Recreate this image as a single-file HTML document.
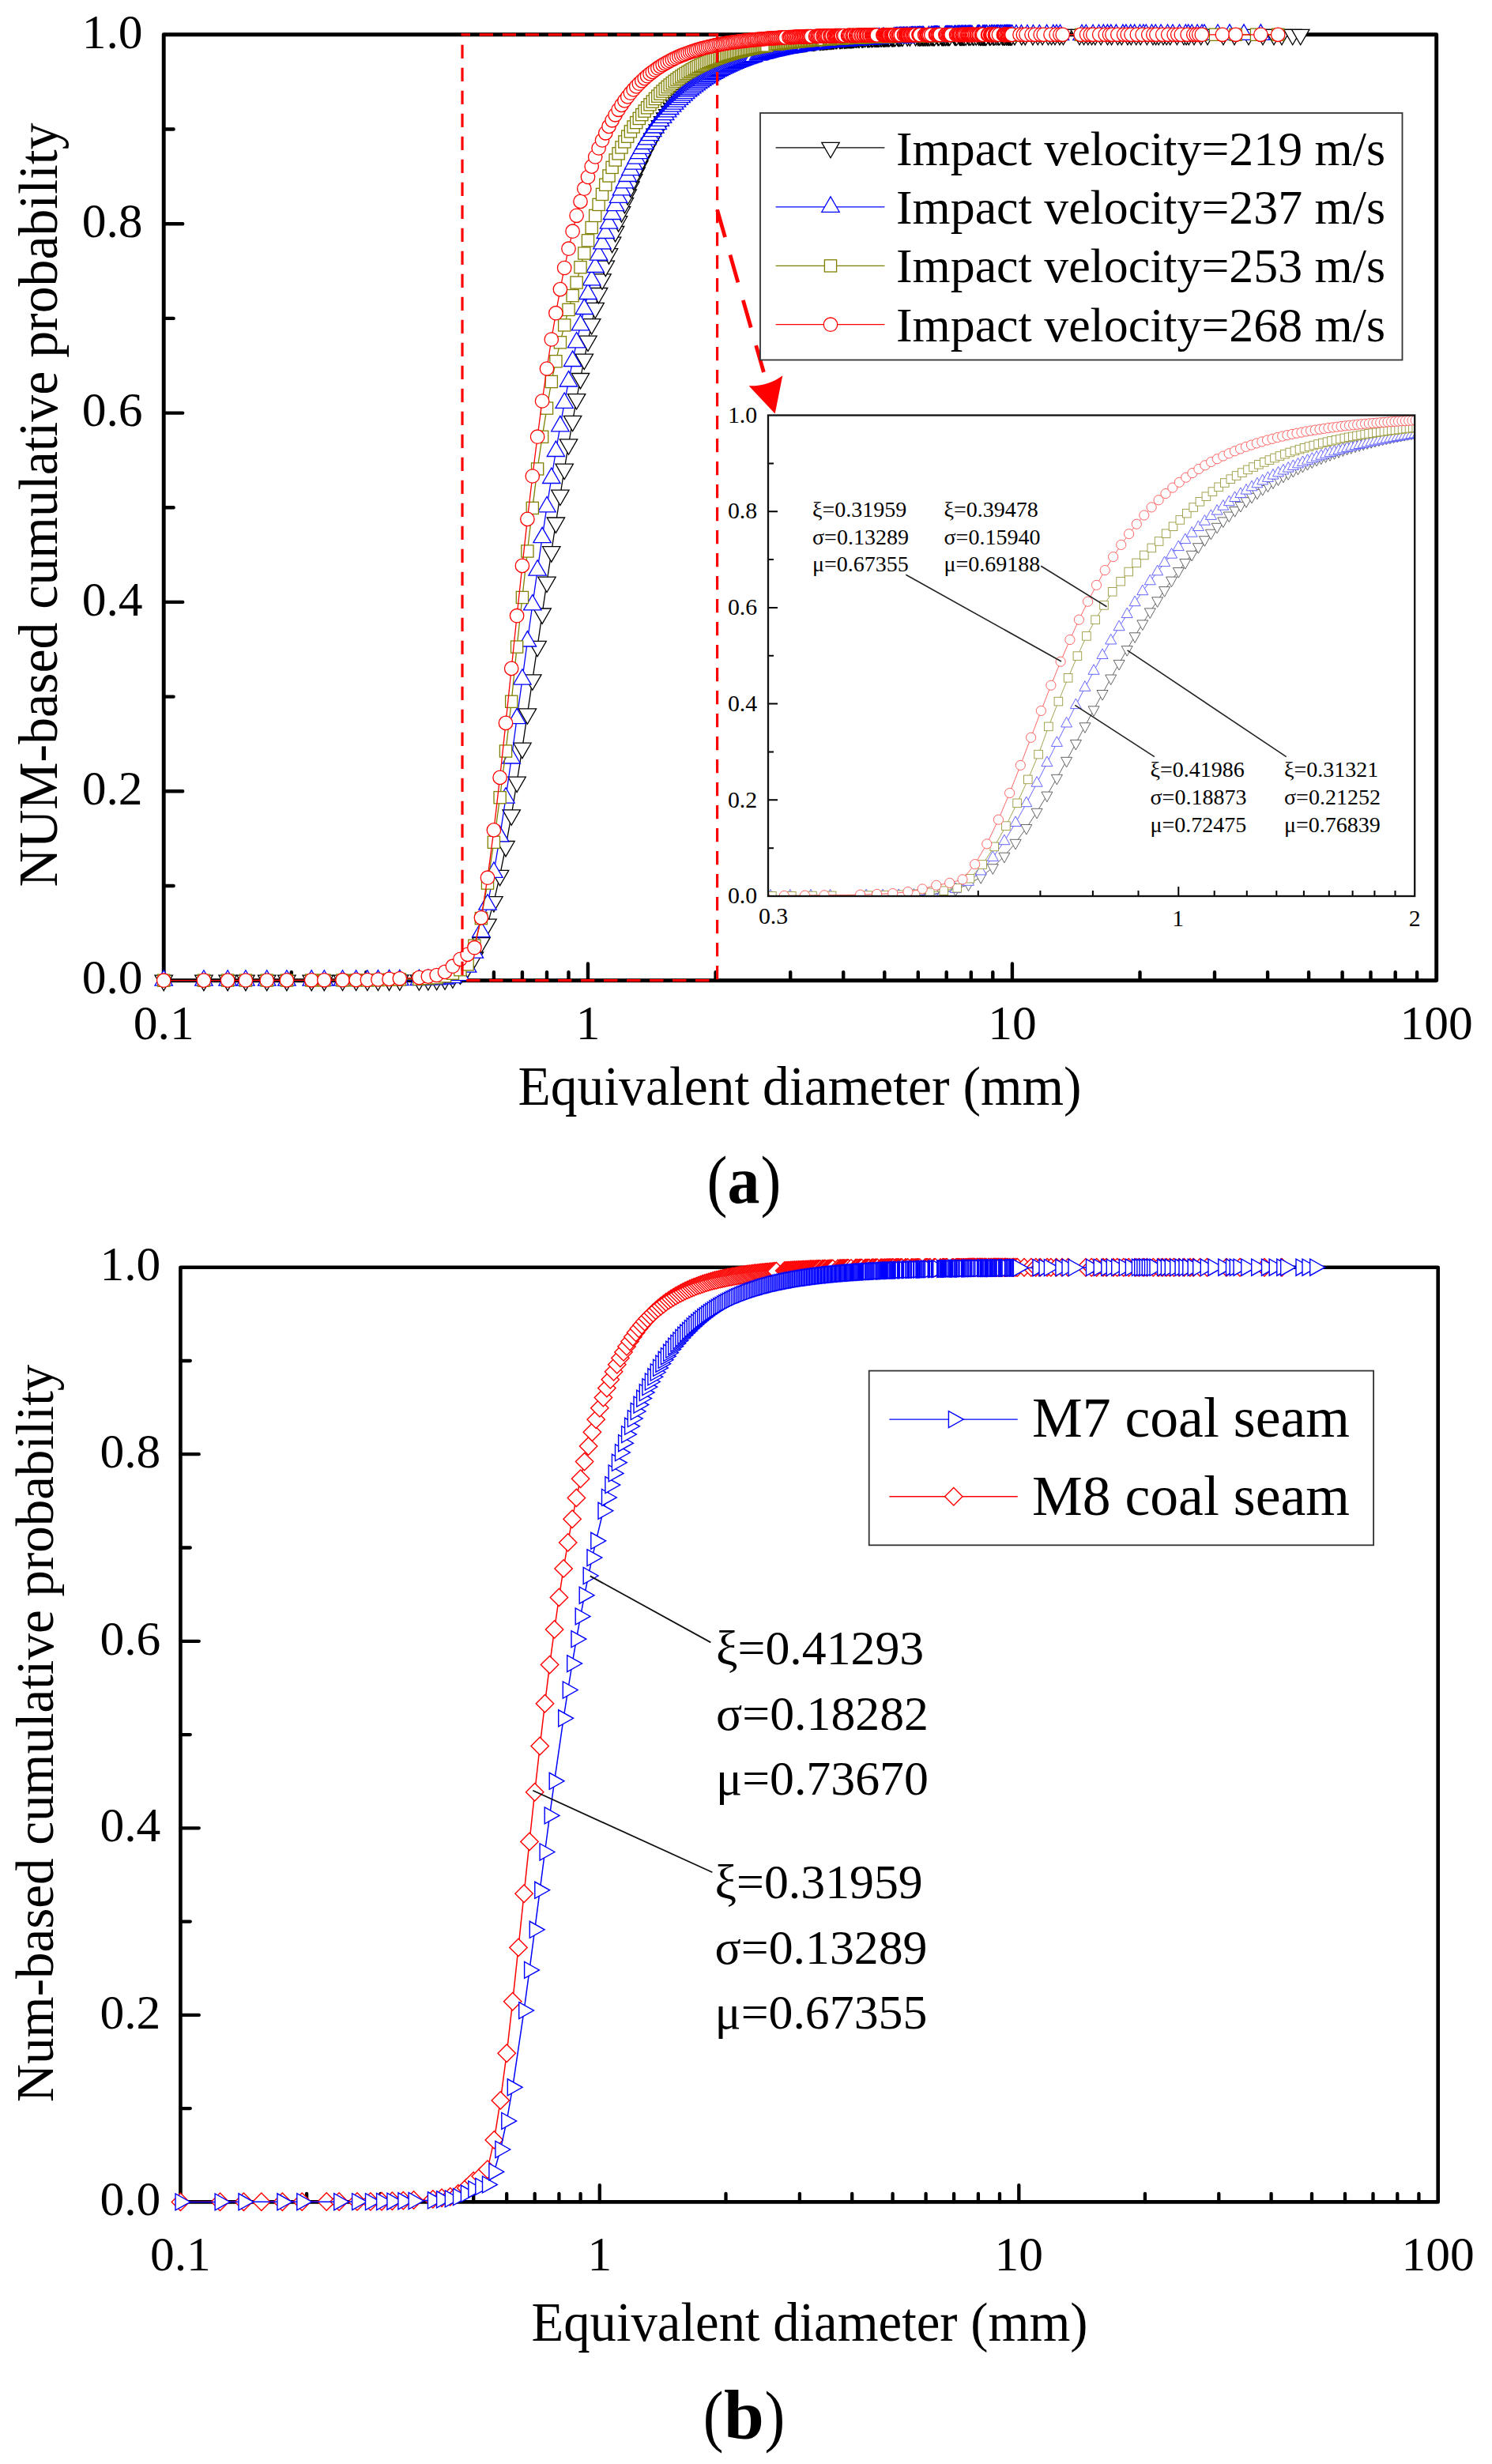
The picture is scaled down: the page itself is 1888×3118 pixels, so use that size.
<!DOCTYPE html>
<html lang="en"><head><meta charset="utf-8"><title>Figure</title>
<style>html,body{margin:0;padding:0;background:#fff}svg{display:block}text{font-family:"Liberation Serif","DejaVu Serif",serif;fill:#000}</style></head><body>
<svg width="1888" height="3118" viewBox="0 0 1888 3118">
<rect width="1888" height="3118" fill="#fff"/>
<defs><marker id="aD" markerUnits="userSpaceOnUse" markerWidth="40" markerHeight="40" refX="20" refY="20" viewBox="0 0 40 40" orient="0" overflow="visible"><g transform="translate(20 20)" fill="#fff" stroke="#000" stroke-width="1.3"><path d="M-11.2 -6.5H11.2L0 12.9Z"/></g></marker><marker id="aU" markerUnits="userSpaceOnUse" markerWidth="40" markerHeight="40" refX="20" refY="20" viewBox="0 0 40 40" orient="0" overflow="visible"><g transform="translate(20 20)" fill="#fff" stroke="#00f" stroke-width="1.3"><path d="M-11.2 6.5H11.2L0 -12.9Z"/></g></marker><marker id="aS" markerUnits="userSpaceOnUse" markerWidth="40" markerHeight="40" refX="20" refY="20" viewBox="0 0 40 40" orient="0" overflow="visible"><g transform="translate(20 20)" fill="#fff" stroke="#808000" stroke-width="1.3"><rect x="-7.6" y="-7.6" width="15.2" height="15.2"/></g></marker><marker id="aC" markerUnits="userSpaceOnUse" markerWidth="40" markerHeight="40" refX="20" refY="20" viewBox="0 0 40 40" orient="0" overflow="visible"><g transform="translate(20 20)" fill="#fff" stroke="#f00" stroke-width="1.3"><circle r="8.7"/></g></marker><marker id="iD" markerUnits="userSpaceOnUse" markerWidth="40" markerHeight="40" refX="20" refY="20" viewBox="0 0 40 40" orient="0" overflow="visible"><g transform="translate(20 20)" fill="#fff" stroke="#555" stroke-width="0.9"><path d="M-7 -4.2H7L0 8.4Z"/></g></marker><marker id="iU" markerUnits="userSpaceOnUse" markerWidth="40" markerHeight="40" refX="20" refY="20" viewBox="0 0 40 40" orient="0" overflow="visible"><g transform="translate(20 20)" fill="#fff" stroke="#55f" stroke-width="0.9"><path d="M-7 4.2H7L0 -8.4Z"/></g></marker><marker id="iS" markerUnits="userSpaceOnUse" markerWidth="40" markerHeight="40" refX="20" refY="20" viewBox="0 0 40 40" orient="0" overflow="visible"><g transform="translate(20 20)" fill="#fff" stroke="#9a9a40" stroke-width="0.9"><rect x="-5.3" y="-5.3" width="10.6" height="10.6"/></g></marker><marker id="iC" markerUnits="userSpaceOnUse" markerWidth="40" markerHeight="40" refX="20" refY="20" viewBox="0 0 40 40" orient="0" overflow="visible"><g transform="translate(20 20)" fill="#fff" stroke="#f55" stroke-width="0.9"><circle r="6.1"/></g></marker><marker id="bR" markerUnits="userSpaceOnUse" markerWidth="40" markerHeight="40" refX="20" refY="20" viewBox="0 0 40 40" orient="0" overflow="visible"><g transform="translate(20 20)" fill="#fff" stroke="#00f" stroke-width="1.4"><path d="M-6.4 -10.5V10.5L12.4 0Z"/></g></marker><marker id="bM" markerUnits="userSpaceOnUse" markerWidth="40" markerHeight="40" refX="20" refY="20" viewBox="0 0 40 40" orient="0" overflow="visible"><g transform="translate(20 20)" fill="#fff" stroke="#f00" stroke-width="1.4"><path d="M-11.2 0L0 -11.2L11.2 0L0 11.2Z"/></g></marker><clipPath id="ci"><rect x="972" y="525.5" width="818.7" height="608.5"/></clipPath></defs>
<g id="plot-a">
<path d="M207.2 1121h12.4M207.2 1001.3h24M207.2 881.6h12.4M207.2 761.9h24M207.2 642.2h12.4M207.2 522.6h24M207.2 402.9h12.4M207.2 283.2h24M207.2 163.5h12.4M368.8 1240.7v-10.6M463.3 1240.7v-10.6M530.4 1240.7v-10.6M582.4 1240.7v-10.6M624.9 1240.7v-10.6M660.9 1240.7v-10.6M692 1240.7v-10.6M719.5 1240.7v-10.6M744 1240.7v-21.3M905.6 1240.7v-10.6M1000.2 1240.7v-10.6M1067.2 1240.7v-10.6M1119.3 1240.7v-10.6M1161.8 1240.7v-10.6M1197.7 1240.7v-10.6M1228.8 1240.7v-10.6M1256.3 1240.7v-10.6M1280.9 1240.7v-21.3M1442.5 1240.7v-10.6M1537 1240.7v-10.6M1604.1 1240.7v-10.6M1656.1 1240.7v-10.6M1698.6 1240.7v-10.6M1734.5 1240.7v-10.6M1765.7 1240.7v-10.6M1793.1 1240.7v-10.6" stroke="#000" stroke-width="4.4" stroke-linecap="round" fill="none"/>
<rect x="207.2" y="43.8" width="1610.5" height="1196.9" fill="none" stroke="#000" stroke-width="4.9" stroke-linejoin="round"/>
<g font-size="61.5">
<text x="180.6" y="1257.4" text-anchor="end">0.0</text>
<text x="180.6" y="1018" text-anchor="end">0.2</text>
<text x="180.6" y="778.6" text-anchor="end">0.4</text>
<text x="180.6" y="539.3" text-anchor="end">0.6</text>
<text x="180.6" y="299.9" text-anchor="end">0.8</text>
<text x="180.6" y="60.5" text-anchor="end">1.0</text>
<text x="207.2" y="1315.3" text-anchor="middle">0.1</text>
<text x="744" y="1315.3" text-anchor="middle">1</text>
<text x="1280.9" y="1315.3" text-anchor="middle">10</text>
<text x="1817.7" y="1315.3" text-anchor="middle">100</text>
</g>
<text x="1012" y="1397.5" font-size="70" text-anchor="middle" textLength="713" lengthAdjust="spacingAndGlyphs">Equivalent diameter (mm)</text>
<text transform="translate(71.8 639) rotate(-90)" font-size="69" text-anchor="middle" textLength="967" lengthAdjust="spacingAndGlyphs">NUM-based cumulative probability</text>
<text transform="translate(894.45 1522.8) scale(0.906 1)" font-size="86">(</text><text transform="translate(920.58 1522.3) scale(0.957 1)" font-size="85.6" font-weight="bold">a</text><text transform="translate(962.62 1522.8) scale(0.901 1)" font-size="86">)</text>
<polyline points="207.2,1240.7 257.9,1240.7 288.1,1240.7 310.9,1240.7 337.7,1240.7 362.9,1240.7 394.2,1240.7 410.3,1240.7 433.5,1240.6 450.6,1240.6 464.9,1240.6 478.4,1240.6 492.5,1240.5 505.8,1240.4 530.4,1240.3 541.8,1240.1 552.6,1239.9 563,1239.4 572.9,1237.3 582.4,1232.6 591.6,1224.2 600.4,1211.3 608.9,1193.2 617,1169.7 624.9,1141.1 632.6,1107.9 640,1071 647.2,1031.3 654.1,989.6 660.9,946.7 667.4,903.4 673.8,860.3 680.1,817.9 686.1,776.5 692,736.6 697.8,698.2 703.4,661.5 708.9,626.6 714.2,593.6 719.5,562.3 724.6,532.8 729.6,505.1 734.5,479 739.3,454.6 744,431.6 748.7,410.1 753.2,389.9 757.6,371 762,353.3 766.3,336.7 770.5,321.2 774.6,306.7 778.6,293 782.6,280.2 786.5,268.2 790.4,257 794.2,246.4 797.9,236.5 801.6,227.2 805.2,218.4 808.8,210.1 812.3,202.4 815.7,195.1 819.1,188.2 822.5,181.7 825.8,175.5 829,169.7 832.3,164.3 835.4,159.1 838.6,154.2 841.7,149.5 844.7,145.2 847.7,141 850.7,137.1 853.6,133.3 856.5,129.8 859.4,126.4 862.2,123.2 865,120.2 867.7,117.3 870.5,114.5 873.2,111.9 875.8,109.4 878.5,107 881.1,104.8 883.6,102.6 886.2,100.5 888.7,98.5 891.2,96.7 893.7,94.9 896.1,93.1 898.5,91.5 900.9,89.9 903.3,88.4 905.6,86.9 908,85.6 910.3,84.2 912.5,83 914.8,81.7 917,80.6 919.2,79.4 921.4,78.4 923.6,77.3 925.7,76.3 927.9,75.4 930,74.4 932.1,73.5 934.1,72.7 936.2,71.9 938.2,71.1 940.2,70.3 942.2,69.6 944.2,68.9 946.2,68.2 948.1,67.5 950.1,66.9 957.7,64.5 959.5,64 961.4,63.5 963.2,63 968.6,61.6 970.4,61.1 972.1,60.7 973.9,60.3 975.6,59.9 977.3,59.5 979,59.1 980.7,58.8 982.4,58.4 984.1,58.1 985.7,57.8 987.4,57.4 989,57.1 990.7,56.8 992.3,56.5 993.9,56.3 995.5,56 997,55.7 998.6,55.5 1000.2,55.2 1001.7,55 1006.3,54.3 1007.8,54 1009.3,53.8 1010.8,53.6 1012.3,53.4 1013.8,53.2 1015.2,53 1016.7,52.8 1018.1,52.7 1019.5,52.5 1021,52.3 1028,51.5 1029.3,51.4 1030.7,51.2 1032.1,51.1 1037.4,50.6 1038.8,50.4 1040.1,50.3 1041.4,50.2 1042.7,50.1 1044,50 1045.3,49.9 1046.5,49.8 1047.8,49.6 1049.1,49.5 1050.3,49.4 1051.6,49.3 1052.8,49.3 1054.1,49.2 1055.3,49.1 1057.7,48.9 1058.9,48.8 1062.5,48.6 1063.7,48.5 1064.9,48.4 1066.1,48.3 1068.4,48.2 1069.6,48.1 1070.7,48 1071.9,48 1073,47.9 1074.1,47.8 1075.3,47.8 1076.4,47.7 1077.5,47.7 1078.6,47.6 1079.7,47.5 1080.8,47.5 1083,47.4 1084.1,47.3 1086.3,47.2 1087.3,47.2 1090.5,47 1091.6,47 1092.6,46.9 1094.7,46.8 1097.8,46.7 1098.8,46.7 1099.8,46.6 1100.8,46.6 1102.8,46.5 1103.8,46.5 1104.8,46.4 1106.8,46.4 1107.8,46.3 1108.8,46.3 1109.7,46.3 1110.7,46.2 1111.7,46.2 1112.6,46.2 1114.6,46.1 1115.5,46.1 1117.4,46 1118.3,46 1119.3,46 1120.2,45.9 1121.1,45.9 1122,45.9 1123,45.8 1123.9,45.8 1124.8,45.8 1125.7,45.8 1128.4,45.7 1129.3,45.7 1130.2,45.7 1131.1,45.6 1132,45.6 1132.8,45.6 1136.3,45.5 1137.2,45.5 1138.1,45.5 1139.8,45.4 1141.5,45.4 1142.3,45.4 1148.2,45.2 1151.4,45.2 1158.6,45 1161.8,45 1163.3,45 1164.1,45 1165.6,44.9 1167.1,44.9 1167.9,44.9 1168.7,44.9 1169.4,44.9 1170.9,44.9 1171.7,44.8 1173.1,44.8 1173.9,44.8 1174.6,44.8 1176.1,44.8 1176.8,44.8 1179,44.7 1180.4,44.7 1181.9,44.7 1182.6,44.7 1186.8,44.6 1187.5,44.6 1188.2,44.6 1191.6,44.6 1192.3,44.6 1193,44.6 1193.7,44.6 1194.4,44.6 1195,44.6 1196.4,44.5 1197,44.5 1199,44.5 1199.7,44.5 1200.4,44.5 1201.7,44.5 1208.1,44.4 1208.8,44.4 1209.4,44.4 1210.7,44.4 1214.4,44.4 1215,44.4 1215.7,44.4 1216.3,44.4 1216.9,44.4 1218.1,44.3 1218.7,44.3 1219.3,44.3 1220.5,44.3 1222.3,44.3 1225.9,44.3 1226.5,44.3 1228.3,44.3 1231.2,44.3 1232.3,44.2 1235.2,44.2 1238.5,44.2 1240.2,44.2 1240.8,44.2 1241.3,44.2 1243,44.2 1243.5,44.2 1244.6,44.2 1245.7,44.2 1246.2,44.2 1247.3,44.2 1247.9,44.2 1252.1,44.1 1252.6,44.1 1253.7,44.1 1256.8,44.1 1257.3,44.1 1258.9,44.1 1261.4,44.1 1263.4,44.1 1264.9,44.1 1268.4,44.1 1269.9,44.1 1270.9,44.1 1271.3,44.1 1273.3,44.1 1273.8,44.1 1275.2,44 1276.2,44 1276.6,44 1277.1,44 1278.1,44 1278.5,44 1279.5,44 1280.4,44 1284,44 1292.8,44 1297.3,44 1306.9,44 1313.3,43.9 1319.1,43.9 1326.4,43.9 1330.6,43.9 1335,43.9 1340.9,43.9 1345.5,43.9 1366,43.9 1371.5,43.9 1376.8,43.9 1381.5,43.9 1385.8,43.9 1393.1,43.8 1401.5,43.8 1406.6,43.8 1414.4,43.8 1419.3,43.8 1426.9,43.8 1431.3,43.8 1437.7,43.8 1443.2,43.8 1451.4,43.8 1459,43.8 1462.6,43.8 1466.2,43.8 1472,43.8 1476.2,43.8 1480.7,43.8 1489.4,43.8 1498,43.8 1501.1,43.8 1504.3,43.8 1511,43.8 1519.7,43.8 1528,43.8 1548,43.8 1562,43.8 1580,43.8 1598,43.8 1612,43.8 1622,43.8 1635.7,43.8 1645.7,43.8" fill="none" stroke="#000" stroke-width="1.3" stroke-linejoin="round" marker-start="url(#aD)" marker-mid="url(#aD)" marker-end="url(#aD)"/>
<polyline points="207.2,1240.7 257.9,1240.7 288.1,1240.7 310.9,1240.7 337.7,1240.7 362.9,1240.6 394.2,1240.6 410.3,1240.6 433.5,1240.6 450.6,1240.6 464.9,1240.6 478.4,1240.5 492.5,1240.3 505.8,1240.2 530.4,1240 541.8,1239.7 552.6,1239.4 563,1238.5 572.9,1237.1 582.4,1234.2 591.6,1223.7 600.4,1205.6 608.9,1179.1 617,1144.7 624.9,1103.9 632.6,1058.3 640,1009.6 647.2,959.5 654.1,909.2 660.9,859.6 667.4,811.5 673.8,765.4 680.1,721.6 686.1,680.2 692,641.4 697.8,605 703.4,571 708.9,539.3 714.2,509.9 719.5,482.5 724.6,457 729.6,433.4 734.5,411.4 739.3,391 744,372 748.7,354.4 753.2,338 757.6,322.6 762,308.4 766.3,295 770.5,282.6 774.6,271 778.6,260.1 782.6,249.9 786.5,240.4 790.4,231.4 794.2,223 797.9,215.1 801.6,207.7 805.2,200.7 808.8,194.1 812.3,187.8 815.7,182 819.1,176.4 822.5,171.2 825.8,166.2 829,161.5 832.3,157.1 835.4,152.9 838.6,148.9 841.7,145.1 844.7,141.4 847.7,138 850.7,134.7 853.6,131.6 856.5,128.7 859.4,125.8 862.2,123.1 865,120.6 867.7,118.1 870.5,115.7 873.2,113.5 875.8,111.3 878.5,109.3 881.1,107.3 883.6,105.4 886.2,103.6 888.7,101.9 891.2,100.2 893.7,98.6 896.1,97.1 898.5,95.6 900.9,94.2 903.3,92.8 905.6,91.5 908,90.2 910.3,89 912.5,87.8 914.8,86.7 917,85.6 919.2,84.5 921.4,83.5 923.6,82.5 925.7,81.6 927.9,80.7 930,79.8 932.1,78.9 934.1,78.1 936.2,77.3 938.2,76.6 940.2,75.8 942.2,75.1 944.2,74.4 946.2,73.7 948.1,73 950.1,72.4 952,71.8 953.9,71.2 959.5,69.5 961.4,69 963.2,68.4 965,67.9 966.8,67.5 968.6,67 970.4,66.5 972.1,66.1 973.9,65.6 975.6,65.2 977.3,64.8 979,64.4 980.7,64 982.4,63.6 984.1,63.3 985.7,62.9 987.4,62.6 989,62.2 990.7,61.9 992.3,61.6 993.9,61.2 995.5,60.9 997,60.6 998.6,60.3 1000.2,60.1 1001.7,59.8 1003.3,59.5 1004.8,59.2 1006.3,59 1007.8,58.7 1009.3,58.5 1010.8,58.2 1012.3,58 1013.8,57.8 1015.2,57.6 1016.7,57.3 1018.1,57.1 1019.5,56.9 1022.4,56.5 1023.8,56.3 1025.2,56.1 1026.6,55.9 1028,55.7 1029.3,55.6 1030.7,55.4 1032.1,55.2 1033.4,55 1034.8,54.9 1036.1,54.7 1037.4,54.6 1038.8,54.4 1040.1,54.2 1041.4,54.1 1042.7,53.9 1044,53.8 1045.3,53.7 1046.5,53.5 1051.6,53 1052.8,52.9 1054.1,52.8 1055.3,52.6 1056.5,52.5 1058.9,52.3 1061.3,52.1 1063.7,51.9 1064.9,51.8 1066.1,51.7 1068.4,51.5 1069.6,51.4 1070.7,51.3 1071.9,51.2 1073,51.1 1074.1,51 1075.3,50.9 1076.4,50.8 1079.7,50.6 1080.8,50.5 1081.9,50.4 1083,50.3 1085.2,50.2 1086.3,50.1 1087.3,50 1088.4,50 1089.5,49.9 1090.5,49.8 1093.7,49.6 1094.7,49.5 1096.8,49.4 1098.8,49.3 1099.8,49.2 1100.8,49.2 1101.8,49.1 1102.8,49.1 1103.8,49 1104.8,48.9 1105.8,48.9 1106.8,48.8 1108.8,48.7 1109.7,48.7 1110.7,48.6 1112.6,48.5 1117.4,48.3 1118.3,48.2 1131.1,47.7 1132.8,47.6 1133.7,47.6 1134.6,47.5 1135.5,47.5 1137.2,47.4 1138.1,47.4 1138.9,47.4 1139.8,47.3 1140.6,47.3 1142.3,47.2 1143.2,47.2 1144,47.2 1144.9,47.1 1146.5,47.1 1147.3,47.1 1148.2,47 1150.6,46.9 1152.3,46.9 1153.1,46.9 1153.9,46.8 1154.7,46.8 1155.5,46.8 1157.1,46.7 1157.9,46.7 1158.6,46.7 1160.2,46.6 1161,46.6 1161.8,46.6 1162.5,46.6 1163.3,46.5 1164.1,46.5 1165.6,46.5 1167.1,46.4 1167.9,46.4 1168.7,46.4 1175.4,46.2 1178.3,46.1 1179.7,46.1 1181.1,46.1 1181.9,46.1 1182.6,46 1183.3,46 1184,46 1184.7,46 1185.4,46 1186.1,46 1186.8,45.9 1188.2,45.9 1196.4,45.7 1197.7,45.7 1198.4,45.7 1199,45.7 1199.7,45.7 1200.4,45.6 1201.7,45.6 1202.3,45.6 1203,45.6 1204.3,45.6 1204.9,45.6 1207.5,45.5 1208.8,45.5 1209.4,45.5 1211.3,45.4 1212.5,45.4 1213.2,45.4 1213.8,45.4 1214.4,45.4 1215,45.4 1216.3,45.4 1216.9,45.4 1217.5,45.3 1218.1,45.3 1219.9,45.3 1221.1,45.3 1221.7,45.3 1222.3,45.3 1224.1,45.2 1225.3,45.2 1226.5,45.2 1227.1,45.2 1227.7,45.2 1228.8,45.2 1230,45.2 1236.9,45.1 1237.4,45 1238,45 1238.5,45 1239.1,45 1239.7,45 1243.5,45 1244.1,45 1245.2,45 1245.7,44.9 1246.8,44.9 1247.9,44.9 1248.4,44.9 1248.9,44.9 1252.1,44.9 1252.6,44.9 1254.7,44.8 1255.3,44.8 1255.8,44.8 1257.9,44.8 1258.4,44.8 1260.4,44.8 1261.9,44.8 1262.4,44.8 1262.9,44.8 1263.9,44.7 1265.9,44.7 1266.4,44.7 1266.9,44.7 1268.4,44.7 1270.4,44.7 1270.9,44.7 1271.3,44.7 1272.3,44.7 1273.3,44.7 1273.8,44.7 1274.2,44.6 1274.7,44.6 1275.2,44.6 1275.7,44.6 1276.2,44.6 1277.1,44.6 1277.6,44.6 1278.5,44.6 1279.9,44.6 1280.9,44.6 1286,44.5 1292.4,44.5 1300,44.4 1307.4,44.4 1315.3,44.4 1324.6,44.3 1332.8,44.3 1337,44.2 1341.5,44.2 1369,44.1 1374.3,44.1 1383.1,44.1 1390.5,44.1 1396.3,44 1401.4,44 1405.8,44 1412.4,44 1420.9,44 1424.9,44 1430.7,44 1435.7,44 1442.4,43.9 1446.9,43.9 1450.3,43.9 1457.4,43.9 1462.2,43.9 1469.1,43.9 1477.5,43.9 1484,43.9 1492.5,43.9 1500.3,43.9 1503.7,43.9 1508.2,43.9 1515.1,43.9 1521,43.9 1524,43.9 1541,43.9 1556,43.8 1574,43.8 1595.4,43.8" fill="none" stroke="#00f" stroke-width="1.3" stroke-linejoin="round" marker-start="url(#aU)" marker-mid="url(#aU)" marker-end="url(#aU)"/>
<polyline points="207.2,1240.7 257.9,1240.7 288.1,1240.6 310.9,1240.6 337.7,1240.6 362.9,1240.6 394.2,1240.5 410.3,1240.5 433.5,1240.5 450.6,1240.4 464.9,1240.4 478.4,1240.1 492.5,1239.8 505.8,1239.5 530.4,1238.9 541.8,1238.1 552.6,1237.3 563,1235.3 572.9,1231.7 582.4,1227.2 591.6,1220.4 600.4,1196.7 608.9,1162.1 617,1117.6 624.9,1065.8 632.6,1009.2 640,950.5 647.2,887.8 654.1,818.6 660.9,756 667.4,697.5 673.8,642.9 680.1,593.4 686.1,552.8 692,516.6 697.8,483 703.4,457.2 708.9,433.3 714.2,411.4 719.5,391.9 724.6,374.1 729.6,357.5 734.5,338.2 739.3,320.5 744,304.3 748.7,288 753.2,272.9 757.6,258.9 762,245.9 766.3,233.8 770.5,222.5 774.6,211.9 778.6,202.5 782.6,194.3 786.5,186.5 790.4,179.4 794.2,172.7 797.9,166.4 801.6,160.5 805.2,155.1 808.8,149.9 812.3,145.1 815.7,140.6 819.1,136.3 822.5,132.3 825.8,128.6 829,125 832.3,121.7 835.4,118.5 838.6,115.5 841.7,112.7 844.7,110 847.7,107.5 850.7,105.1 853.6,102.8 856.5,100.6 859.4,98.6 862.2,96.6 865,94.8 867.7,93 870.5,91.3 873.2,89.7 875.8,88.2 878.5,86.7 881.1,85.3 883.6,84 886.2,82.7 888.7,81.5 891.2,80.3 893.7,79.2 896.1,78.1 898.5,77.1 900.9,76.1 903.3,75.1 905.6,74.2 908,73.4 910.3,72.5 912.5,71.7 914.8,70.9 917,70.2 919.2,69.5 921.4,68.8 923.6,68.1 925.7,67.5 927.9,66.9 930,66.3 932.1,65.7 934.1,65.2 936.2,64.6 938.2,64.1 940.2,63.6 942.2,63.1 944.2,62.7 946.2,62.2 948.1,61.8 950.1,61.4 952,60.9 953.9,60.6 955.8,60.2 957.7,59.8 959.5,59.4 961.4,59.1 963.2,58.8 965,58.4 966.8,58.1 968.6,57.8 970.4,57.5 980.7,55.9 982.4,55.7 984.1,55.4 985.7,55.2 987.4,55 989,54.7 990.7,54.5 992.3,54.3 993.9,54.1 995.5,53.9 997,53.7 998.6,53.6 1000.2,53.4 1001.7,53.2 1003.3,53 1004.8,52.9 1006.3,52.7 1007.8,52.5 1009.3,52.4 1010.8,52.2 1012.3,52.1 1013.8,51.9 1015.2,51.8 1016.7,51.7 1018.1,51.5 1019.5,51.4 1021,51.3 1022.4,51.1 1023.8,51 1025.2,50.9 1026.6,50.8 1028,50.7 1029.3,50.6 1030.7,50.5 1032.1,50.4 1033.4,50.2 1034.8,50.1 1036.1,50 1037.4,49.9 1038.8,49.9 1040.1,49.8 1041.4,49.7 1042.7,49.6 1049.1,49.2 1050.3,49.1 1051.6,49 1052.8,48.9 1054.1,48.9 1056.5,48.7 1057.7,48.6 1058.9,48.6 1060.1,48.5 1061.3,48.4 1062.5,48.4 1063.7,48.3 1064.9,48.3 1066.1,48.2 1070.7,48 1071.9,47.9 1073,47.9 1074.1,47.8 1075.3,47.7 1076.4,47.7 1077.5,47.6 1078.6,47.6 1079.7,47.5 1084.1,47.4 1085.2,47.3 1086.3,47.3 1087.3,47.2 1088.4,47.2 1089.5,47.1 1090.5,47.1 1092.6,47 1093.7,47 1094.7,46.9 1096.8,46.9 1097.8,46.8 1098.8,46.8 1099.8,46.8 1100.8,46.7 1101.8,46.7 1103.8,46.6 1104.8,46.6 1105.8,46.6 1107.8,46.5 1108.8,46.5 1109.7,46.4 1110.7,46.4 1111.7,46.4 1112.6,46.4 1113.6,46.3 1114.6,46.3 1115.5,46.3 1116.4,46.2 1118.3,46.2 1119.3,46.2 1121.1,46.1 1122,46.1 1123,46.1 1123.9,46 1124.8,46 1125.7,46 1126.6,46 1128.4,45.9 1130.2,45.9 1131.1,45.9 1135.5,45.8 1138.1,45.7 1138.9,45.7 1139.8,45.7 1141.5,45.6 1143.2,45.6 1144,45.6 1144.9,45.6 1145.7,45.5 1147.3,45.5 1148.2,45.5 1149,45.5 1149.8,45.5 1151.4,45.4 1160.2,45.3 1161,45.3 1161.8,45.3 1163.3,45.2 1164.1,45.2 1165.6,45.2 1166.4,45.2 1167.1,45.2 1173.1,45.1 1180.4,45 1181.9,45 1182.6,44.9 1183.3,44.9 1184,44.9 1184.7,44.9 1186.1,44.9 1188.2,44.9 1193.7,44.8 1194.4,44.8 1195,44.8 1195.7,44.8 1196.4,44.8 1197,44.8 1198.4,44.8 1199,44.8 1200.4,44.7 1201.7,44.7 1202.3,44.7 1203.6,44.7 1205.6,44.7 1206.9,44.7 1208.1,44.7 1209.4,44.6 1210,44.6 1210.7,44.6 1211.9,44.6 1212.5,44.6 1213.8,44.6 1214.4,44.6 1215,44.6 1215.7,44.6 1216.9,44.6 1217.5,44.6 1218.1,44.6 1219.3,44.6 1221.1,44.5 1226.5,44.5 1227.1,44.5 1228.8,44.5 1230.6,44.5 1232.3,44.5 1233.5,44.4 1234.6,44.4 1235.7,44.4 1236.9,44.4 1239.1,44.4 1239.7,44.4 1240.2,44.4 1240.8,44.4 1243,44.4 1243.5,44.4 1245.2,44.4 1245.7,44.4 1246.2,44.4 1246.8,44.4 1247.3,44.4 1248.4,44.3 1249.5,44.3 1250,44.3 1251.1,44.3 1251.6,44.3 1252.1,44.3 1252.6,44.3 1253.2,44.3 1253.7,44.3 1254.2,44.3 1254.7,44.3 1255.8,44.3 1256.3,44.3 1260.4,44.3 1260.9,44.3 1263.4,44.3 1264.4,44.3 1264.9,44.3 1265.4,44.3 1265.9,44.2 1267.9,44.2 1268.9,44.2 1269.9,44.2 1271.3,44.2 1272.3,44.2 1272.8,44.2 1273.3,44.2 1273.8,44.2 1274.2,44.2 1275.7,44.2 1276.6,44.2 1277.1,44.2 1277.6,44.2 1278.1,44.2 1279,44.2 1279.5,44.2 1280.9,44.2 1288,44.2 1292.2,44.1 1302.3,44.1 1311.3,44.1 1315.5,44.1 1323.3,44 1329,44 1339.2,44 1368,43.9 1373.1,43.9 1380.3,43.9 1386.8,43.9 1391.7,43.9 1397.8,43.9 1403.5,43.9 1409.8,43.9 1419.5,43.9 1427.6,43.9 1430.9,43.9 1436.3,43.9 1446.1,43.9 1454.4,43.9 1461.7,43.9 1469.2,43.8 1477,43.8 1481.1,43.8 1487,43.8 1491.9,43.8 1496.3,43.8 1504.1,43.8 1507.3,43.8 1511.6,43.8 1519.6,43.8 1538,43.8 1563.6,43.8 1590,43.8 1617.2,43.8" fill="none" stroke="#808000" stroke-width="1.3" stroke-linejoin="round" marker-start="url(#aS)" marker-mid="url(#aS)" marker-end="url(#aS)"/>
<polyline points="207.2,1240.7 257.9,1240.6 288.1,1240.6 310.9,1240.5 337.7,1240.5 362.9,1240.4 394.2,1240.3 410.3,1240.3 433.5,1240.2 450.6,1240.1 464.9,1240 478.4,1239.5 492.5,1238.9 505.8,1238.3 530.4,1237.1 541.8,1235.6 552.6,1234 563,1229.9 572.9,1222.7 582.4,1213.8 591.6,1207.8 600.4,1199.2 608.9,1161.3 617,1110.7 624.9,1050.4 632.6,983.9 640,914.9 647.2,845.9 654.1,779.2 660.9,715.9 667.4,656.9 673.8,602.5 680.1,552.7 686.1,507.5 692,466.5 697.8,429.5 703.4,396.2 708.9,366.1 714.2,339 719.5,314.7 724.6,292.7 729.6,272.8 734.5,254.9 739.3,238.7 744,224 748.7,210.6 753.2,198.5 757.6,187.5 762,177.5 766.3,168.3 770.5,159.9 774.6,152.3 778.6,145.3 782.6,138.8 786.5,132.9 790.4,127.4 794.2,122.4 797.9,117.7 801.6,113.4 805.2,109.4 808.8,105.7 812.3,102.3 815.7,99.1 819.1,96.2 822.5,93.4 825.8,90.9 829,88.5 832.3,86.2 835.4,84.1 838.6,82.1 841.7,80.3 844.7,78.6 847.7,77 850.7,75.4 853.6,74 856.5,72.7 859.4,71.4 862.2,70.2 865,69.1 867.7,68 870.5,67 873.2,66 875.8,65.1 878.5,64.3 881.1,63.4 883.6,62.7 886.2,61.9 888.7,61.2 891.2,60.6 893.7,60 896.1,59.4 898.5,58.8 900.9,58.3 903.3,57.7 905.6,57.2 908,56.8 910.3,56.3 912.5,55.9 914.8,55.5 917,55.1 919.2,54.7 921.4,54.4 923.6,54 925.7,53.7 927.9,53.4 930,53.1 932.1,52.8 934.1,52.5 936.2,52.3 938.2,52 940.2,51.8 942.2,51.5 944.2,51.3 946.2,51.1 948.1,50.9 950.1,50.7 952,50.5 953.9,50.3 955.8,50.1 957.7,49.9 959.5,49.8 961.4,49.6 963.2,49.4 965,49.3 966.8,49.1 968.6,49 970.4,48.9 972.1,48.7 973.9,48.6 975.6,48.5 977.3,48.4 979,48.3 980.7,48.1 982.4,48 984.1,47.9 985.7,47.8 987.4,47.7 989,47.6 990.7,47.6 992.3,47.5 993.9,47.4 998.6,47.1 1000.2,47.1 1001.7,47 1003.3,46.9 1004.8,46.9 1006.3,46.8 1007.8,46.7 1009.3,46.7 1010.8,46.6 1012.3,46.5 1013.8,46.5 1015.2,46.4 1016.7,46.4 1018.1,46.3 1019.5,46.3 1021,46.2 1022.4,46.2 1023.8,46.1 1025.2,46.1 1026.6,46 1032.1,45.9 1033.4,45.8 1034.8,45.8 1036.1,45.7 1037.4,45.7 1038.8,45.7 1041.4,45.6 1042.7,45.6 1044,45.5 1045.3,45.5 1046.5,45.5 1047.8,45.4 1050.3,45.4 1051.6,45.3 1052.8,45.3 1055.3,45.3 1056.5,45.2 1057.7,45.2 1058.9,45.2 1060.1,45.2 1061.3,45.1 1062.5,45.1 1063.7,45.1 1064.9,45.1 1067.2,45 1068.4,45 1073,44.9 1074.1,44.9 1075.3,44.9 1076.4,44.9 1078.6,44.9 1079.7,44.8 1080.8,44.8 1083,44.8 1084.1,44.8 1085.2,44.8 1086.3,44.7 1087.3,44.7 1089.5,44.7 1090.5,44.7 1092.6,44.7 1093.7,44.6 1095.7,44.6 1096.8,44.6 1097.8,44.6 1099.8,44.6 1100.8,44.6 1102.8,44.5 1103.8,44.5 1104.8,44.5 1105.8,44.5 1106.8,44.5 1107.8,44.5 1108.8,44.5 1109.7,44.5 1117.4,44.4 1118.3,44.4 1119.3,44.4 1120.2,44.4 1121.1,44.4 1122,44.4 1123,44.4 1123.9,44.4 1124.8,44.3 1125.7,44.3 1127.5,44.3 1128.4,44.3 1129.3,44.3 1130.2,44.3 1131.1,44.3 1132,44.3 1134.6,44.3 1135.5,44.3 1137.2,44.3 1138.1,44.3 1139.8,44.2 1144,44.2 1145.7,44.2 1146.5,44.2 1147.3,44.2 1148.2,44.2 1149,44.2 1149.8,44.2 1151.4,44.2 1152.3,44.2 1153.1,44.2 1154.7,44.2 1156.3,44.1 1157.1,44.1 1158.6,44.1 1162.5,44.1 1163.3,44.1 1164.1,44.1 1170.2,44.1 1171.7,44.1 1173.1,44.1 1173.9,44.1 1174.6,44.1 1176.1,44.1 1178.3,44.1 1184,44 1184.7,44 1185.4,44 1186.8,44 1187.5,44 1188.9,44 1189.6,44 1196.4,44 1197,44 1198.4,44 1199.7,44 1201,44 1201.7,44 1203,44 1203.6,44 1210,44 1211.3,44 1212.5,44 1213.8,44 1214.4,44 1215,44 1215.7,44 1217.5,43.9 1218.1,43.9 1218.7,43.9 1219.9,43.9 1220.5,43.9 1222.3,43.9 1224.1,43.9 1224.7,43.9 1225.3,43.9 1226.5,43.9 1227.1,43.9 1228.3,43.9 1229.4,43.9 1230,43.9 1231.2,43.9 1232.3,43.9 1234,43.9 1235.7,43.9 1236.9,43.9 1238.5,43.9 1239.7,43.9 1241.9,43.9 1243,43.9 1244.1,43.9 1250,43.9 1250.5,43.9 1251.1,43.9 1253.2,43.9 1253.7,43.9 1254.2,43.9 1254.7,43.9 1255.3,43.9 1255.8,43.9 1256.3,43.9 1258.9,43.9 1259.4,43.9 1260.4,43.9 1260.9,43.9 1263.9,43.9 1269.9,43.9 1270.4,43.9 1270.9,43.9 1271.3,43.9 1271.8,43.9 1273.3,43.9 1274.7,43.9 1275.7,43.9 1277.1,43.9 1278.1,43.9 1279.5,43.9 1279.9,43.9 1280.4,43.9 1290.5,43.9 1294.9,43.9 1298.5,43.8 1305.5,43.8 1310,43.8 1316.7,43.8 1320.7,43.8 1329.5,43.8 1336.6,43.8 1341.4,43.8 1344.7,43.8 1367.6,43.8 1375.1,43.8 1379.8,43.8 1383.3,43.8 1391.2,43.8 1398.7,43.8 1404,43.8 1407.5,43.8 1414.3,43.8 1422.1,43.8 1426.7,43.8 1431.5,43.8 1438.8,43.8 1445.6,43.8 1453.2,43.8 1459.3,43.8 1463.4,43.8 1471.2,43.8 1478.2,43.8 1485.6,43.8 1490.2,43.8 1494.8,43.8 1502.6,43.8 1510.3,43.8 1513.8,43.8 1517.2,43.8 1520.8,43.8 1546.9,43.8 1563.6,43.8 1595.4,43.8 1617.2,43.8" fill="none" stroke="#f00" stroke-width="1.3" stroke-linejoin="round" marker-start="url(#aC)" marker-mid="url(#aC)" marker-end="url(#aC)"/>
<rect x="585" y="43.8" width="322.6" height="1196.9" fill="none" stroke="#f00" stroke-width="3.2" stroke-dasharray="17.3 11.7" stroke-dashoffset="7.3"/>
<path d="M907.6 265.5L966.4 471" stroke="#f00" stroke-width="4.8" stroke-dasharray="36 23.5" fill="none"/>
<path d="M980.7 523.4L947.6 488.3Q972 489 990.3 475.2Z" fill="#f00"/>
<rect x="962" y="143" width="812.5" height="312.5" fill="#fff" stroke="#333" stroke-width="1.8"/>
<path d="M981.6 186.9H1119.4" stroke="#000" stroke-width="1.3" fill="none"/>
<g transform="translate(1051 186.9)" fill="#fff" stroke="#000" stroke-width="1.3"><path d="M-11.2 -6.5H11.2L0 12.9Z"/></g>
<text x="1134" y="208.5" font-size="61.5" textLength="619" lengthAdjust="spacingAndGlyphs">Impact velocity=219 m/s</text>
<path d="M981.6 261.8H1119.4" stroke="#00f" stroke-width="1.3" fill="none"/>
<g transform="translate(1051 261.8)" fill="#fff" stroke="#00f" stroke-width="1.3"><path d="M-11.2 6.5H11.2L0 -12.9Z"/></g>
<text x="1134" y="283.2" font-size="61.5" textLength="619" lengthAdjust="spacingAndGlyphs">Impact velocity=237 m/s</text>
<path d="M981.6 336.4H1119.4" stroke="#808000" stroke-width="1.3" fill="none"/>
<g transform="translate(1051 336.4)" fill="#fff" stroke="#808000" stroke-width="1.3"><rect x="-7.6" y="-7.6" width="15.2" height="15.2"/></g>
<text x="1134" y="357.2" font-size="61.5" textLength="619" lengthAdjust="spacingAndGlyphs">Impact velocity=253 m/s</text>
<path d="M981.6 410.7H1119.4" stroke="#f00" stroke-width="1.3" fill="none"/>
<g transform="translate(1051 410.7)" fill="#fff" stroke="#f00" stroke-width="1.3"><circle r="8.7"/></g>
<text x="1134" y="432" font-size="61.5" textLength="619" lengthAdjust="spacingAndGlyphs">Impact velocity=268 m/s</text>
<path d="M972.0 1073.2h7M972.0 1012.3h12M972.0 951.5h7M972.0 890.6h12M972.0 829.8h7M972.0 768.9h12M972.0 708h7M972.0 647.2h12M972.0 586.4h7M1017.4 1134.0v-7M1141.5 1134.0v-7M1237.8 1134.0v-7M1316.4 1134.0v-7M1382.9 1134.0v-7M1440.5 1134.0v-7M1491.3 1134.0v-12M1536.7 1134.0v-7M1577.8 1134.0v-7M1615.3 1134.0v-7M1649.9 1134.0v-7M1681.8 1134.0v-7M1711.6 1134.0v-7M1739.4 1134.0v-7M1765.5 1134.0v-7" stroke="#000" stroke-width="2" fill="none"/>
<g font-size="29.8">
<text x="958.2" y="1143.2" text-anchor="end">0.0</text>
<text x="958.2" y="1021.5" text-anchor="end">0.2</text>
<text x="958.2" y="899.8" text-anchor="end">0.4</text>
<text x="958.2" y="778.1" text-anchor="end">0.6</text>
<text x="958.2" y="656.4" text-anchor="end">0.8</text>
<text x="958.2" y="534.7" text-anchor="end">1.0</text>
<text x="978.6" y="1168.8" text-anchor="middle">0.3</text>
<text x="1490.6" y="1171.8" text-anchor="middle">1</text>
<text x="1790.3" y="1171.8" text-anchor="middle">2</text>
</g>
<g clip-path="url(#ci)">
<polyline points="974.9,1134 999.8,1133.9 1026,1133.9 1050.6,1133.9 1096.1,1133.8 1117.1,1133.7 1137.2,1133.6 1156.4,1133.3 1174.7,1132.3 1192.3,1129.9 1209.2,1125.6 1225.5,1119.1 1241.2,1109.8 1256.3,1097.9 1270.9,1083.4 1285.1,1066.5 1298.8,1047.7 1312.1,1027.5 1324.9,1006.3 1337.4,984.5 1349.6,962.5 1361.4,940.6 1372.9,919 1384.1,898 1395,877.7 1405.7,858.2 1416.1,839.6 1426.2,821.8 1436.1,805 1445.8,789.1 1455.3,774.1 1464.6,760 1473.6,746.8 1482.5,734.3 1491.3,722.7 1499.8,711.7 1508.2,701.5 1516.4,691.9 1524.4,682.9 1532.4,674.4 1540.1,666.5 1547.8,659.1 1555.3,652.2 1562.6,645.7 1569.9,639.6 1577,633.9 1584,628.5 1590.9,623.5 1597.7,618.7 1604.4,614.3 1611,610.1 1617.5,606.1 1623.9,602.4 1630.2,598.9 1636.4,595.6 1642.5,592.5 1648.5,589.5 1654.5,586.7 1660.3,584.1 1666.1,581.6 1671.8,579.3 1677.5,577 1683,574.9 1688.5,572.9 1694,571 1699.3,569.2 1704.6,567.5 1709.8,565.9 1715,564.3 1720.1,562.9 1725.2,561.5 1730.1,560.1 1735.1,558.9 1739.9,557.6 1744.8,556.5 1749.5,555.4 1754.2,554.3 1758.9,553.3 1763.5,552.4 1768.1,551.5 1772.6,550.6 1777.1,549.7 1781.5,548.9 1785.9,548.2 1790.2,547.4 1794.5,546.7 1798.7,546.1" fill="none" stroke="#555" stroke-width="0.9" stroke-linejoin="round" marker-start="url(#iD)" marker-mid="url(#iD)" marker-end="url(#iD)"/>
<polyline points="974.9,1133.9 999.8,1133.9 1026,1133.8 1050.6,1133.8 1096.1,1133.6 1117.1,1133.5 1137.2,1133.3 1156.4,1132.9 1174.7,1132.2 1192.3,1130.7 1209.2,1125.4 1225.5,1116.1 1241.2,1102.7 1256.3,1085.2 1270.9,1064.5 1285.1,1041.3 1298.8,1016.5 1312.1,991 1324.9,965.4 1337.4,940.2 1349.6,915.8 1361.4,892.4 1372.9,870.1 1384.1,849.1 1395,829.3 1405.7,810.8 1416.1,793.5 1426.2,777.4 1436.1,762.5 1445.8,748.5 1455.3,735.6 1464.6,723.6 1473.6,712.4 1482.5,702 1491.3,692.4 1499.8,683.4 1508.2,675 1516.4,667.3 1524.4,660 1532.4,653.2 1540.1,646.9 1547.8,641 1555.3,635.5 1562.6,630.3 1569.9,625.4 1577,620.9 1584,616.6 1590.9,612.6 1597.7,608.8 1604.4,605.2 1611,601.9 1617.5,598.7 1623.9,595.8 1630.2,592.9 1636.4,590.3 1642.5,587.7 1648.5,585.4 1654.5,583.1 1660.3,581 1666.1,578.9 1671.8,577 1677.5,575.1 1683,573.4 1688.5,571.7 1694,570.2 1699.3,568.6 1704.6,567.2 1709.8,565.8 1715,564.5 1720.1,563.3 1725.2,562.1 1730.1,560.9 1735.1,559.8 1739.9,558.8 1744.8,557.8 1749.5,556.8 1754.2,555.9 1758.9,555 1763.5,554.2 1768.1,553.4 1772.6,552.6 1777.1,551.8 1781.5,551.1 1785.9,550.4 1790.2,549.7 1794.5,549.1 1798.7,548.5" fill="none" stroke="#55f" stroke-width="0.9" stroke-linejoin="round" marker-start="url(#iU)" marker-mid="url(#iU)" marker-end="url(#iU)"/>
<polyline points="976.9,1133.8 1001.8,1133.7 1028,1133.5 1052.6,1133.4 1098.1,1133.1 1119.1,1132.7 1139.2,1132.3 1158.4,1131.3 1176.7,1129.4 1194.3,1127.2 1211.2,1123.7 1227.5,1111.7 1243.2,1094 1258.3,1071.4 1272.9,1045.1 1287.1,1016.3 1300.8,986.4 1314.1,954.6 1326.9,919.4 1339.4,887.6 1351.6,857.8 1363.4,830.1 1374.9,804.9 1386.1,784.3 1397,765.9 1407.7,748.8 1418.1,735.7 1428.2,723.5 1438.1,712.4 1447.8,702.5 1457.3,693.4 1466.6,685 1475.6,675.2 1484.5,666.2 1493.3,657.9 1501.8,649.6 1510.2,642 1518.4,634.8 1526.4,628.2 1534.4,622.1 1542.1,616.3 1549.8,611 1557.3,606.2 1564.6,602 1571.9,598.1 1579,594.4 1586,591 1592.9,587.8 1599.7,584.9 1606.4,582.1 1613,579.5 1619.5,577 1625.9,574.7 1632.2,572.5 1638.4,570.5 1644.5,568.6 1650.5,566.8 1656.5,565.1 1662.3,563.5 1668.1,562 1673.8,560.5 1679.5,559.2 1685,557.9 1690.5,556.7 1696,555.5 1701.3,554.4 1706.6,553.3 1711.8,552.4 1717,551.4 1722.1,550.5 1727.2,549.6 1732.1,548.8 1737.1,548.1 1741.9,547.3 1746.8,546.6 1751.5,545.9 1756.2,545.3 1760.9,544.6 1765.5,544.1 1770.1,543.5 1774.6,542.9 1779.1,542.4 1783.5,541.9 1787.9,541.4 1792.2,541 1796.5,540.5 1800.7,540.1" fill="none" stroke="#9a9a40" stroke-width="0.9" stroke-linejoin="round" marker-start="url(#iS)" marker-mid="url(#iS)" marker-end="url(#iS)"/>
<polyline points="967.4,1133.7 992.3,1133.4 1018.5,1133.1 1043.1,1132.8 1088.6,1132.2 1109.6,1131.4 1129.7,1130.6 1148.9,1128.5 1167.2,1124.9 1184.8,1120.3 1201.7,1117.3 1218,1112.9 1233.7,1093.6 1248.8,1067.9 1263.4,1037.2 1277.6,1003.5 1291.3,968.4 1304.6,933.3 1317.4,899.4 1329.9,867.2 1342.1,837.2 1353.9,809.5 1365.4,784.2 1376.6,761.2 1387.5,740.4 1398.2,721.6 1408.6,704.6 1418.7,689.4 1428.6,675.6 1438.3,663.2 1447.8,652 1457.1,641.9 1466.1,632.8 1475,624.6 1483.8,617.1 1492.3,610.3 1500.7,604.2 1508.9,598.6 1516.9,593.5 1524.9,588.8 1532.6,584.5 1540.3,580.7 1547.8,577.1 1555.1,573.8 1562.4,570.8 1569.5,568 1576.5,565.4 1583.4,563.1 1590.2,560.9 1596.9,558.9 1603.5,557 1610,555.3 1616.4,553.6 1622.7,552.1 1628.9,550.7 1635,549.4 1641,548.2 1647,547.1 1652.8,546 1658.6,545 1664.3,544.1 1670,543.2 1675.5,542.4 1681,541.6 1686.5,540.9 1691.8,540.2 1697.1,539.5 1702.3,538.9 1707.5,538.3 1712.6,537.8 1717.7,537.3 1722.6,536.8 1727.6,536.3 1732.4,535.9 1737.3,535.5 1742,535.1 1746.7,534.7 1751.4,534.4 1756,534 1760.6,533.7 1765.1,533.4 1769.6,533.1 1774,532.8 1778.4,532.6 1782.7,532.3 1787,532.1 1791.2,531.9" fill="none" stroke="#f55" stroke-width="0.9" stroke-linejoin="round" marker-start="url(#iC)" marker-mid="url(#iC)" marker-end="url(#iC)"/>
</g>
<rect x="972.0" y="525.5" width="818.2" height="608.5" fill="none" stroke="#111" stroke-width="2.3"/>
<g stroke="#222" stroke-width="1.6" fill="none"><path d="M1146.3 727.3L1343 837"/><path d="M1317.2 716.3L1400.5 767.7"/><path d="M1426.5 822.9L1627.7 957.6"/><path d="M1360.3 892.3L1460.9 957.6"/></g>
<text x="1028" y="654.3" font-size="28">ξ=0.31959</text>
<text x="1028" y="688.7" font-size="28">σ=0.13289</text>
<text x="1028" y="723.1" font-size="28">μ=0.67355</text>
<text x="1194.5" y="654.3" font-size="28">ξ=0.39478</text>
<text x="1194.5" y="688.7" font-size="28">σ=0.15940</text>
<text x="1194.5" y="723.1" font-size="28">μ=0.69188</text>
<text x="1455.5" y="982.9" font-size="28">ξ=0.41986</text>
<text x="1455.5" y="1017.7" font-size="28">σ=0.18873</text>
<text x="1455.5" y="1052.5" font-size="28">μ=0.72475</text>
<text x="1625" y="982.9" font-size="28">ξ=0.31321</text>
<text x="1625" y="1017.7" font-size="28">σ=0.21252</text>
<text x="1625" y="1052.5" font-size="28">μ=0.76839</text>
</g>
<g id="plot-b">
<path d="M228.4 2668.1h12.4M228.4 2549.9h23.4M228.4 2431.6h12.4M228.4 2313.3h23.4M228.4 2195.1h12.4M228.4 2076.8h23.4M228.4 1958.5h12.4M228.4 1840.2h23.4M228.4 1722h12.4M388.1 2786.4v-10.6M481.5 2786.4v-10.6M547.8 2786.4v-10.6M599.2 2786.4v-10.6M641.2 2786.4v-10.6M676.7 2786.4v-10.6M707.4 2786.4v-10.6M734.6 2786.4v-10.6M758.8 2786.4v-21.3M918.5 2786.4v-10.6M1011.9 2786.4v-10.6M1078.2 2786.4v-10.6M1129.6 2786.4v-10.6M1171.6 2786.4v-10.6M1207.1 2786.4v-10.6M1237.9 2786.4v-10.6M1265 2786.4v-10.6M1289.3 2786.4v-21.3M1448.9 2786.4v-10.6M1542.3 2786.4v-10.6M1608.6 2786.4v-10.6M1660 2786.4v-10.6M1702 2786.4v-10.6M1737.5 2786.4v-10.6M1768.3 2786.4v-10.6M1795.4 2786.4v-10.6" stroke="#000" stroke-width="4.3" stroke-linecap="round" fill="none"/>
<rect x="228.4" y="1603.7" width="1591.3" height="1182.7" fill="none" stroke="#000" stroke-width="4.6" stroke-linejoin="round"/>
<g font-size="61.5">
<text x="203.3" y="2803.1" text-anchor="end">0.0</text>
<text x="203.3" y="2566.6" text-anchor="end">0.2</text>
<text x="203.3" y="2330" text-anchor="end">0.4</text>
<text x="203.3" y="2093.5" text-anchor="end">0.6</text>
<text x="203.3" y="1856.9" text-anchor="end">0.8</text>
<text x="203.3" y="1620.4" text-anchor="end">1.0</text>
<text x="228.4" y="2872.6" text-anchor="middle">0.1</text>
<text x="758.8" y="2872.6" text-anchor="middle">1</text>
<text x="1289.3" y="2872.6" text-anchor="middle">10</text>
<text x="1819.7" y="2872.6" text-anchor="middle">100</text>
</g>
<text x="1024.5" y="2962" font-size="69.2" text-anchor="middle" textLength="704" lengthAdjust="spacingAndGlyphs">Equivalent diameter (mm)</text>
<text transform="translate(66.8 2193.5) rotate(-90)" font-size="68.5" text-anchor="middle" textLength="933.5" lengthAdjust="spacingAndGlyphs">Num-based cumulative probability</text>
<text transform="translate(889.67 3085.9) scale(0.901 1)" font-size="86">(</text><text transform="translate(915.90 3085.7) scale(1.028 1)" font-size="89" font-weight="bold">b</text><text transform="translate(967.52 3085.9) scale(0.901 1)" font-size="86">)</text>
<polyline points="228.4,2786.4 278.5,2786.3 308.4,2786.3 330.8,2786.2 357.3,2786.2 382.2,2786.1 413.2,2786 429.1,2786 452,2785.9 468.9,2785.9 483,2785.7 496.3,2785.2 510.3,2784.6 523.5,2784 547.8,2782.9 559,2781.3 569.7,2779.8 579.9,2775.8 589.8,2768.7 599.2,2759.8 608.2,2753.9 616.9,2745.3 625.3,2707.9 633.3,2657.9 641.2,2598.3 648.7,2532.7 656,2464.4 663.1,2396.3 670,2330.4 676.7,2267.8 683.2,2209.5 689.5,2155.8 695.6,2106.6 701.6,2061.9 707.4,2021.4 713.1,1984.9 718.7,1951.9 724.1,1922.2 729.4,1895.4 734.6,1871.3 739.6,1849.6 744.6,1830 749.4,1812.3 754.2,1796.2 758.8,1781.7 763.4,1768.6 767.9,1756.6 772.3,1745.7 776.6,1735.8 780.8,1726.7 784.9,1718.5 789,1710.9 793,1703.9 797,1697.6 800.8,1691.7 804.6,1686.3 808.4,1681.3 812.1,1676.7 815.7,1672.5 819.3,1668.6 822.8,1664.9 826.3,1661.5 829.7,1658.4 833,1655.5 836.3,1652.7 839.6,1650.2 842.8,1647.8 846,1645.6 849.1,1643.5 852.2,1641.6 855.3,1639.8 858.3,1638.1 861.3,1636.5 864.2,1635 867.1,1633.5 870,1632.2 872.8,1631 875.6,1629.8 878.3,1628.7 881.1,1627.6 883.8,1626.6 886.4,1625.7 889.1,1624.8 891.7,1623.9 894.2,1623.1 896.8,1622.4 899.3,1621.6 901.8,1620.9 904.3,1620.3 906.7,1619.7 909.1,1619.1 911.5,1618.5 913.9,1618 916.2,1617.5 918.5,1617 920.8,1616.5 923.1,1616.1 925.3,1615.7 927.5,1615.3 929.7,1614.9 931.9,1614.5 934.1,1614.1 936.2,1613.8 938.4,1613.5 940.5,1613.2 942.6,1612.9 944.6,1612.6 946.7,1612.3 948.7,1612.1 950.7,1611.8 952.7,1611.6 954.7,1611.3 956.6,1611.1 958.6,1610.9 960.5,1610.7 962.4,1610.5 964.3,1610.3 966.2,1610.1 968.1,1609.9 969.9,1609.8 971.7,1609.6 973.6,1609.4 975.4,1609.3 977.2,1609.1 978.9,1609 980.7,1608.8 982.5,1608.7 992.7,1608 994.4,1607.9 996,1607.8 997.7,1607.7 999.3,1607.6 1000.9,1607.5 1002.5,1607.4 1004.1,1607.3 1005.7,1607.2 1007.3,1607.2 1008.8,1607.1 1010.4,1607 1011.9,1606.9 1013.4,1606.9 1015,1606.8 1016.5,1606.7 1018,1606.7 1019.5,1606.6 1020.9,1606.5 1022.4,1606.5 1023.9,1606.4 1025.3,1606.3 1026.8,1606.3 1028.2,1606.2 1029.6,1606.2 1031.1,1606.1 1032.5,1606.1 1033.9,1606 1035.3,1606 1036.6,1605.9 1038,1605.9 1040.7,1605.8 1042.1,1605.8 1043.4,1605.7 1044.8,1605.7 1047.4,1605.6 1048.7,1605.6 1050,1605.5 1051.3,1605.5 1052.6,1605.5 1053.9,1605.4 1060.2,1605.3 1062.7,1605.2 1063.9,1605.2 1065.2,1605.2 1066.4,1605.2 1067.6,1605.1 1068.8,1605.1 1070,1605.1 1071.2,1605.1 1072.4,1605 1073.5,1605 1077,1604.9 1082.7,1604.8 1083.9,1604.8 1085,1604.8 1087.2,1604.8 1088.3,1604.8 1089.4,1604.7 1090.5,1604.7 1094.8,1604.7 1095.9,1604.6 1097,1604.6 1098,1604.6 1099.1,1604.6 1100.1,1604.6 1103.3,1604.5 1104.3,1604.5 1105.3,1604.5 1107.4,1604.5 1108.4,1604.5 1109.4,1604.5 1110.4,1604.5 1114.4,1604.4 1115.3,1604.4 1116.3,1604.4 1118.3,1604.4 1119.2,1604.4 1120.2,1604.4 1122.1,1604.3 1123,1604.3 1124.9,1604.3 1125.9,1604.3 1126.8,1604.3 1128.7,1604.3 1129.6,1604.3 1130.5,1604.3 1133.2,1604.3 1134.2,1604.2 1135.1,1604.2 1136,1604.2 1136.8,1604.2 1137.7,1604.2 1139.5,1604.2 1140.4,1604.2 1141.3,1604.2 1145.6,1604.2 1146.5,1604.2 1148.2,1604.1 1149,1604.1 1153.2,1604.1 1154,1604.1 1154.9,1604.1 1156.5,1604.1 1158.2,1604.1 1159.8,1604.1 1160.6,1604.1 1161.4,1604.1 1162.2,1604.1 1163.8,1604.1 1170.8,1604 1172.4,1604 1173.1,1604 1173.9,1604 1176.2,1604 1176.9,1604 1182.1,1604 1182.8,1604 1183.6,1604 1190,1603.9 1192.8,1603.9 1193.5,1603.9 1194.2,1603.9 1194.9,1603.9 1197,1603.9 1197.7,1603.9 1198.4,1603.9 1205.1,1603.9 1206.4,1603.9 1209.7,1603.9 1210.4,1603.9 1211,1603.9 1211.7,1603.9 1212.3,1603.9 1213,1603.9 1213.6,1603.9 1214.2,1603.9 1216.1,1603.9 1216.8,1603.9 1218.7,1603.9 1219.3,1603.9 1221.1,1603.9 1222.4,1603.9 1223,1603.9 1224.2,1603.9 1225.4,1603.8 1226.7,1603.8 1227.3,1603.8 1228.5,1603.8 1229.1,1603.8 1230.3,1603.8 1230.8,1603.8 1231.4,1603.8 1232,1603.8 1232.6,1603.8 1233.8,1603.8 1236.1,1603.8 1236.7,1603.8 1237.3,1603.8 1239,1603.8 1239.6,1603.8 1240.7,1603.8 1241.3,1603.8 1241.9,1603.8 1243,1603.8 1243.6,1603.8 1245.8,1603.8 1246.3,1603.8 1246.9,1603.8 1248,1603.8 1250.7,1603.8 1251.8,1603.8 1254,1603.8 1254.5,1603.8 1256.7,1603.8 1257.7,1603.8 1258.2,1603.8 1258.8,1603.8 1259.3,1603.8 1260.9,1603.8 1261.4,1603.8 1262.9,1603.8 1263.5,1603.8 1264,1603.8 1264.5,1603.8 1266.5,1603.8 1267,1603.8 1268.6,1603.8 1270.6,1603.8 1271.6,1603.8 1272.1,1603.8 1272.5,1603.8 1274,1603.8 1275.5,1603.8 1277.9,1603.8 1280.8,1603.8 1282.7,1603.8 1283.2,1603.8 1285.6,1603.8 1287.4,1603.8 1296,1603.8 1304.8,1603.7 1310.8,1603.7 1316.2,1603.7 1325.1,1603.7 1329.8,1603.7 1336.7,1603.7 1344,1603.7 1351.7,1603.7 1374,1603.7 1381.2,1603.7 1387.7,1603.7 1395.9,1603.7 1400.1,1603.7 1408.8,1603.7 1413.7,1603.7 1421.8,1603.7 1428.3,1603.7 1436.5,1603.7 1441.4,1603.7 1447,1603.7 1451.4,1603.7 1459.3,1603.7 1466,1603.7 1471,1603.7 1476,1603.7 1480.4,1603.7 1485.4,1603.7 1492.2,1603.7 1498.4,1603.7 1505.9,1603.7 1510.3,1603.7 1518.5,1603.7 1527.4,1603.7 1552,1603.7 1569,1603.7 1600,1603.7 1622,1603.7" fill="none" stroke="#f00" stroke-width="1.5" stroke-linejoin="round" marker-start="url(#bM)" marker-mid="url(#bM)" marker-end="url(#bM)"/>
<polyline points="228.4,2786.4 278.5,2786.4 308.4,2786.3 357.3,2786.3 382.2,2786.2 429.1,2786.2 452,2786.1 468.9,2786.1 483,2786 496.3,2785.7 510.3,2785.3 523.5,2785 547.8,2784.3 559,2783.3 569.7,2782.4 579.9,2780 589.8,2775.8 599.2,2770.4 608.2,2766.9 616.9,2764.4 625.3,2748.2 633.3,2720 641.2,2683.9 648.7,2641.3 663.1,2544.1 670,2492.9 676.7,2441.8 683.2,2391.8 689.5,2343.5 695.6,2297.4 701.6,2253.8 713.1,2174.3 718.7,2138.5 724.1,2105.1 729.4,2074.1 734.6,2045.4 739.6,2018.7 744.6,1994 749.4,1971.1 754.2,1949.8 763.4,1911.8 767.9,1894.9 772.3,1879.1 776.6,1864.4 780.8,1850.8 784.9,1838.1 789,1826.2 793,1815.1 797,1804.8 800.8,1795.1 804.6,1786 808.4,1777.6 812.1,1769.6 815.7,1762.1 819.3,1755.1 822.8,1748.5 826.3,1742.3 829.7,1736.5 833,1730.9 836.3,1725.7 839.6,1720.8 842.8,1716.2 846,1711.8 849.1,1707.6 852.2,1703.7 855.3,1699.9 858.3,1696.4 861.3,1693 864.2,1689.8 867.1,1686.8 870,1683.9 872.8,1681.1 875.6,1678.5 878.3,1676 881.1,1673.6 883.8,1671.3 886.4,1669.1 889.1,1667 891.7,1665.1 894.2,1663.1 896.8,1661.3 899.3,1659.6 901.8,1657.9 904.3,1656.3 906.7,1654.8 909.1,1653.3 911.5,1651.9 913.9,1650.5 916.2,1649.2 918.5,1647.9 920.8,1646.7 923.1,1645.6 925.3,1644.5 927.5,1643.4 929.7,1642.3 931.9,1641.3 934.1,1640.4 936.2,1639.4 938.4,1638.5 940.5,1637.7 942.6,1636.8 944.6,1636 946.7,1635.3 948.7,1634.5 950.7,1633.8 952.7,1633.1 954.7,1632.4 956.6,1631.7 958.6,1631.1 960.5,1630.5 962.4,1629.9 964.3,1629.3 966.2,1628.7 968.1,1628.2 969.9,1627.7 971.7,1627.1 973.6,1626.6 975.4,1626.2 977.2,1625.7 978.9,1625.2 980.7,1624.8 982.5,1624.4 984.2,1623.9 985.9,1623.5 987.6,1623.2 989.3,1622.8 991,1622.4 992.7,1622 994.4,1621.7 996,1621.3 997.7,1621 999.3,1620.7 1000.9,1620.4 1002.5,1620.1 1004.1,1619.8 1005.7,1619.5 1007.3,1619.2 1008.8,1618.9 1010.4,1618.6 1011.9,1618.4 1013.4,1618.1 1015,1617.9 1016.5,1617.6 1018,1617.4 1019.5,1617.1 1020.9,1616.9 1022.4,1616.7 1023.9,1616.5 1025.3,1616.3 1026.8,1616.1 1028.2,1615.8 1029.6,1615.7 1031.1,1615.5 1032.5,1615.3 1033.9,1615.1 1035.3,1614.9 1036.6,1614.7 1038,1614.6 1039.4,1614.4 1040.7,1614.2 1042.1,1614.1 1043.4,1613.9 1044.8,1613.7 1046.1,1613.6 1047.4,1613.4 1048.7,1613.3 1050,1613.2 1051.3,1613 1052.6,1612.9 1053.9,1612.8 1055.2,1612.6 1056.5,1612.5 1057.7,1612.4 1059,1612.2 1060.2,1612.1 1061.5,1612 1062.7,1611.9 1063.9,1611.8 1065.2,1611.7 1066.4,1611.6 1067.6,1611.4 1068.8,1611.3 1070,1611.2 1071.2,1611.1 1072.4,1611 1073.5,1610.9 1074.7,1610.8 1075.9,1610.8 1077,1610.7 1078.2,1610.6 1079.3,1610.5 1080.5,1610.4 1081.6,1610.3 1082.7,1610.2 1083.9,1610.1 1085,1610.1 1086.1,1610 1087.2,1609.9 1088.3,1609.8 1089.4,1609.8 1090.5,1609.7 1091.6,1609.6 1092.7,1609.5 1093.8,1609.5 1094.8,1609.4 1095.9,1609.3 1097,1609.3 1098,1609.2 1099.1,1609.1 1101.2,1609 1102.2,1608.9 1103.3,1608.9 1104.3,1608.8 1105.3,1608.8 1106.3,1608.7 1107.4,1608.6 1108.4,1608.6 1109.4,1608.5 1110.4,1608.5 1111.4,1608.4 1112.4,1608.4 1114.4,1608.3 1115.3,1608.2 1116.3,1608.2 1117.3,1608.1 1118.3,1608.1 1119.2,1608 1120.2,1608 1121.1,1607.9 1122.1,1607.9 1123,1607.8 1124,1607.8 1124.9,1607.8 1125.9,1607.7 1126.8,1607.7 1127.7,1607.6 1128.7,1607.6 1129.6,1607.6 1131.4,1607.5 1132.3,1607.4 1133.2,1607.4 1134.2,1607.4 1135.1,1607.3 1136,1607.3 1136.8,1607.3 1137.7,1607.2 1138.6,1607.2 1139.5,1607.2 1142.1,1607.1 1143,1607 1143.9,1607 1144.7,1607 1147.3,1606.9 1148.2,1606.8 1149,1606.8 1149.9,1606.8 1152.4,1606.7 1153.2,1606.7 1154.9,1606.6 1155.7,1606.6 1156.5,1606.6 1157.3,1606.5 1159,1606.5 1159.8,1606.5 1162.2,1606.4 1163,1606.4 1165.4,1606.3 1166.2,1606.3 1166.9,1606.2 1167.7,1606.2 1168.5,1606.2 1169.3,1606.2 1170,1606.2 1170.8,1606.1 1172.4,1606.1 1173.1,1606.1 1174.6,1606 1175.4,1606 1176.9,1606 1180.6,1605.9 1181.4,1605.9 1182.1,1605.9 1182.8,1605.8 1185,1605.8 1185.7,1605.8 1187.2,1605.7 1192.1,1605.6 1192.8,1605.6 1193.5,1605.6 1194.2,1605.6 1195.6,1605.6 1196.3,1605.5 1197,1605.5 1197.7,1605.5 1198.4,1605.5 1199.1,1605.5 1199.7,1605.5 1200.4,1605.5 1201.1,1605.4 1201.8,1605.4 1203.1,1605.4 1203.8,1605.4 1205.8,1605.4 1206.4,1605.3 1207.8,1605.3 1208.4,1605.3 1209.1,1605.3 1209.7,1605.3 1210.4,1605.3 1211,1605.3 1211.7,1605.3 1213.6,1605.2 1214.2,1605.2 1215.5,1605.2 1216.1,1605.2 1216.8,1605.2 1217.4,1605.2 1219.3,1605.1 1220.5,1605.1 1223,1605.1 1223.6,1605.1 1224.2,1605.1 1224.8,1605 1225.4,1605 1226,1605 1227.3,1605 1227.9,1605 1229.7,1605 1231.4,1605 1232,1604.9 1233.8,1604.9 1234.4,1604.9 1235.5,1604.9 1236.1,1604.9 1238.4,1604.9 1240.2,1604.8 1243,1604.8 1244.1,1604.8 1245.2,1604.8 1246.9,1604.8 1247.5,1604.8 1248,1604.7 1249.1,1604.7 1250.2,1604.7 1251.3,1604.7 1252.9,1604.7 1253.4,1604.7 1254,1604.7 1255.1,1604.7 1255.6,1604.7 1256.1,1604.7 1257.2,1604.6 1258.8,1604.6 1259.3,1604.6 1259.8,1604.6 1260.3,1604.6 1260.9,1604.6 1261.4,1604.6 1262.4,1604.6 1262.9,1604.6 1263.5,1604.6 1265,1604.6 1265.5,1604.6 1266.5,1604.6 1267,1604.6 1267.5,1604.5 1270.1,1604.5 1270.6,1604.5 1271.6,1604.5 1272.5,1604.5 1273,1604.5 1273.5,1604.5 1274.5,1604.5 1277.9,1604.5 1279.4,1604.4 1279.9,1604.4 1280.3,1604.4 1281.8,1604.4 1282.2,1604.4 1283.7,1604.4 1284.1,1604.4 1285.1,1604.4 1286,1604.4 1287.4,1604.4 1287.9,1604.4 1288.3,1604.4 1288.8,1604.4 1313.4,1604.2 1321.4,1604.2 1327.8,1604.1 1342.3,1604.1 1350.4,1604 1358.4,1604 1380.9,1603.9 1390.6,1603.9 1400.2,1603.9 1406.7,1603.9 1413.1,1603.9 1422.7,1603.9 1430.8,1603.8 1438.8,1603.8 1442.1,1603.8 1445.3,1603.8 1448.5,1603.8 1451.7,1603.8 1454.9,1603.8 1458.1,1603.8 1461.4,1603.8 1471,1603.8 1475.8,1603.8 1480.7,1603.8 1487.1,1603.8 1493.5,1603.8 1498.4,1603.8 1503.2,1603.8 1509.6,1603.8 1516.1,1603.8 1525.7,1603.8 1535.4,1603.7 1548.2,1603.7 1557.9,1603.7 1562.7,1603.7 1567.5,1603.7 1577.2,1603.7 1590.1,1603.7 1602.9,1603.7 1612.6,1603.7 1622.2,1603.7 1627.1,1603.7 1646.4,1603.7 1654.4,1603.7 1664.1,1603.7" fill="none" stroke="#00f" stroke-width="1.5" stroke-linejoin="round" marker-start="url(#bR)" marker-mid="url(#bR)" marker-end="url(#bR)"/>
<rect x="1099.7" y="1734.6" width="638.4" height="220.7" fill="#fff" stroke="#333" stroke-width="1.8"/>
<path d="M1125.4 1796.1H1287.7" stroke="#00f" stroke-width="1.4" fill="none"/>
<g transform="translate(1206.8 1796.1)" fill="#fff" stroke="#00f" stroke-width="1.4"><path d="M-6.4 -10.5V10.5L12.4 0Z"/></g>
<text x="1306" y="1817.8" font-size="72.5" textLength="402" lengthAdjust="spacingAndGlyphs">M7 coal seam</text>
<path d="M1125.4 1893.8H1287.7" stroke="#f00" stroke-width="1.4" fill="none"/>
<g transform="translate(1206.8 1893.8)" fill="#fff" stroke="#f00" stroke-width="1.4"><path d="M-11.2 0L0 -11.2L11.2 0L0 11.2Z"/></g>
<text x="1306" y="1916.9" font-size="72.5" textLength="402" lengthAdjust="spacingAndGlyphs">M8 coal seam</text>
<g stroke="#111" stroke-width="1.8" fill="none"><path d="M746.8 1994.4L899.4 2078.4"/><path d="M674.3 2265.8L901.4 2369.2"/></g>
<text x="906" y="2106.4" font-size="61.8">ξ=0.41293</text>
<text x="906" y="2188.8" font-size="61.8">σ=0.18282</text>
<text x="906" y="2271.3" font-size="61.8">μ=0.73670</text>
<text x="904.5" y="2402.4" font-size="61.8">ξ=0.31959</text>
<text x="904.5" y="2484.8" font-size="61.8">σ=0.13289</text>
<text x="904.5" y="2567.3" font-size="61.8">μ=0.67355</text>
</g>
</svg></body></html>
